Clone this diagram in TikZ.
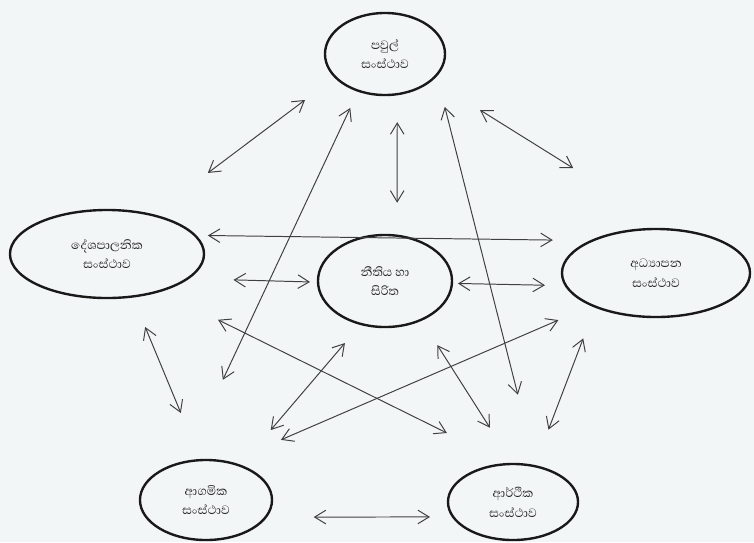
\documentclass[tikz,border=0pt]{standalone}
\usepackage{fontspec}
\newfontfamily\sinhala[Script=Sinhala]{Abhaya Libre}
\usetikzlibrary{arrows.meta, shapes.geometric}
\definecolor{paper}{RGB}{243,246,247}

\begin{document}
\begin{tikzpicture}[x=0.025cm, y=-0.025cm,
      inst/.style={ellipse, draw=black!90, line width=1.7pt, outer sep=0pt, inner sep=0pt,
        align=center, text=black!85, font=\sinhala\fontsize{11}{14}\selectfont},
      link/.style={{Straight Barb[length=2.8mm, width=3.4mm]}-{Straight Barb[length=2.8mm, width=3.4mm]},
        draw=black!75, line width=0.7pt}]
    \fill[paper] (0,0) rectangle (754,542);
    \node[inst, minimum width=3cm, minimum height=2.05cm] (fam) at (385,54) {පවුල්\\සංස්ථාව};
    \node[inst, minimum width=4.85cm, minimum height=2.2cm] (pol) at (107,254) {දේශපාලනික\\සංස්ථාව};
    \node[inst, minimum width=3.35cm, minimum height=2.3cm] (law) at (385,281) {නීතිය හා\\සිරිත};
    \node[inst, minimum width=4.7cm, minimum height=2.2cm] (edu) at (656,273) {අධ්‍යාපන\\සංස්ථාව};
    \node[inst, minimum width=3.3cm, minimum height=2cm] (rlg) at (206,500) {ආගමික\\සංස්ථාව};
    \node[inst, minimum width=3.25cm, minimum height=1.9cm] (eco) at (513,502) {ආර්ථික\\සංස්ථාව};
    \draw[link, shorten <=0.95cm, shorten >=1.75cm] (fam.205) -- (pol.41); % family - political
    \draw[link, shorten <=0.475cm, shorten >=2.275cm] (fam.234) -- (rlg.120); % family - religious
    \draw[link, shorten <=0.7cm, shorten >=0.825cm] (fam.287) -- (law.75); % family - law
    \draw[link, shorten <=0.825cm, shorten >=1.85cm] (fam.338) -- (eco.57); % family - economic
    \draw[link, shorten <=1.425cm, shorten >=2.9cm] (fam.331) -- (edu.70); % family - education
    \draw[link, shorten <=0.325cm, shorten >=0.99cm] (pol.12) -- (edu.153); % political - education
    \draw[link, shorten <=1.15cm, shorten >=0.2cm] (pol.343) -- (law.181); % political - law
    \draw[link, shorten <=0.15cm, shorten >=0.525cm] (law.358) -- (edu.188); % law - education
    \draw[link, shorten <=1.625cm, shorten >=1.75cm] (pol.325) -- (eco.95); % political - economic
    \draw[link, shorten <=0.825cm, shorten >=1.275cm] (pol.301) -- (rlg.98); % political - religious
    \draw[link, shorten <=0.625cm, shorten >=1.175cm] (law.241) -- (rlg.45); % law - religious
    \draw[link, shorten <=0.925cm, shorten >=1.425cm] (edu.207) -- (rlg.59); % education - religious
    \draw[link, shorten <=0.75cm, shorten >=1.075cm] (law.313) -- (eco.90); % law - economic
    \draw[link, shorten <=0.85cm, shorten >=0.975cm] (edu.209) -- (eco.59); % education - economic
    \draw[link, shorten <=1.2cm, shorten >=0.58cm] (rlg.344) -- (eco.194); % religious - economic
\end{tikzpicture}
\end{document}
